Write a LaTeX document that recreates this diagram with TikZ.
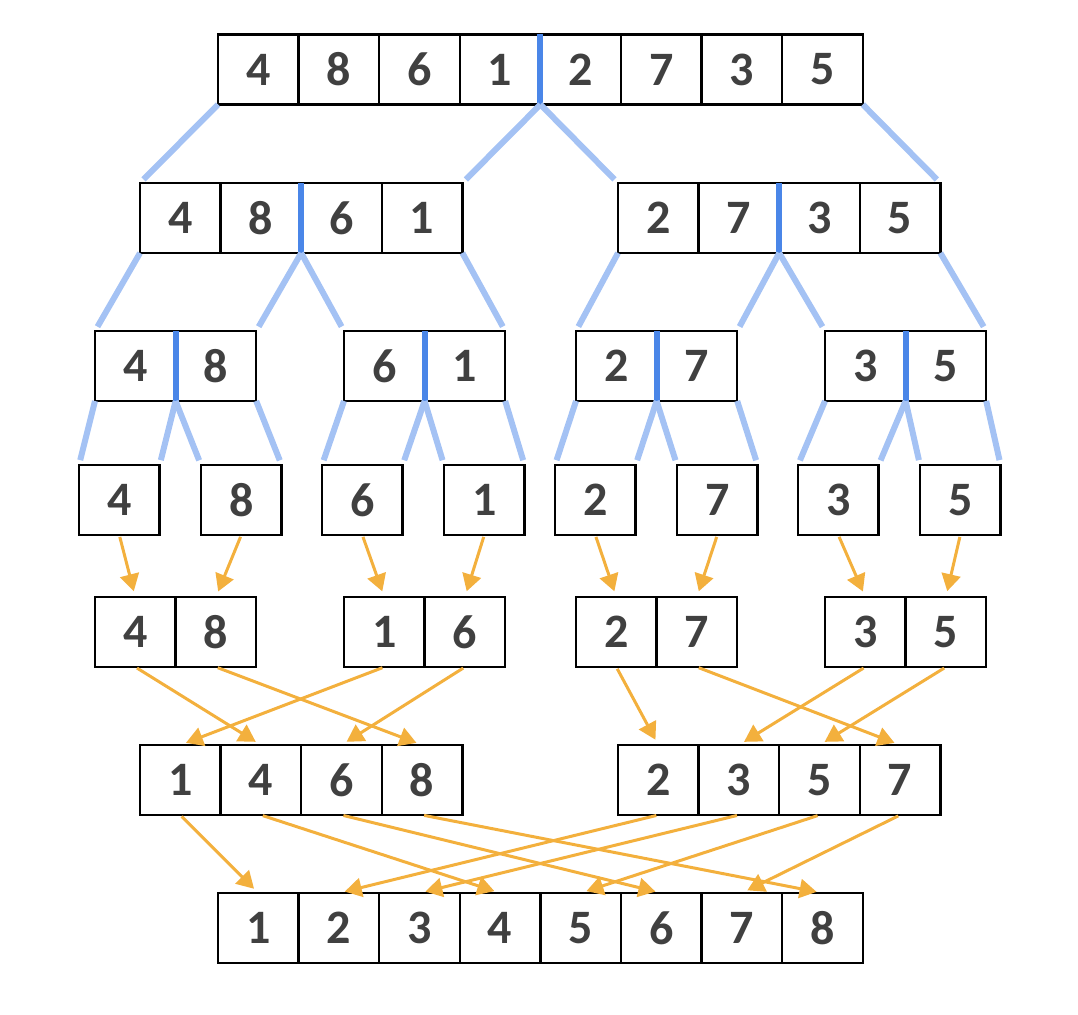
\documentclass[tikz,border=0pt]{standalone}
\usepackage{fontspec}
\setmainfont{Carlito}
\usetikzlibrary{arrows.meta}
\definecolor{cutblue}{HTML}{4A86E8}
\definecolor{branchblue}{HTML}{A4C2F4}
\definecolor{mergeorange}{HTML}{F3B03D}
\definecolor{digitgray}{HTML}{404040}

\begin{document}
\begin{tikzpicture}[x=1pt,y=-1pt,
  cell/.style={draw,line width=2.5pt,minimum width=80.6pt,minimum height=70pt,outer sep=0pt,inner sep=0pt,text=digitgray,font=\fontsize{48}{50}\selectfont\bfseries},
  cutline/.style={cutblue,line width=6pt},
  branch/.style={branchblue,line width=6pt,shorten >=5pt},
  mergearrow/.style={mergeorange,line width=3pt,shorten <=2pt,shorten >=6pt,-{Triangle[length=17pt,width=19pt]}}]
  \useasboundingbox (0,0) rectangle (1078,1014);
  % split rows
  \foreach \v [count=\i] in {4,8,6,1,2,7,3,5}
    \node[cell] (a\i) at ({177.7+80.6*\i},69.5) {\v};
  \foreach \v [count=\i] in {4,8,6,1}
    \node[cell] (b\i) at ({99.7+80.6*\i},218) {\v};
  \foreach \v [count=\i from 5] in {2,7,3,5}
    \node[cell] (b\i) at ({255.3+80.6*\i},218) {\v};
  \foreach \x/\p/\q [count=\k] in {135.3/4/8, 384.3/6/1, 616.3/2/7, 865.3/3/5} {
    \pgfmathtruncatemacro\m{2*\k-1}
    \pgfmathtruncatemacro\j{2*\k}
    \node[cell] (c\m) at (\x,366) {\p};
    \node[cell] (c\j) at (\x+80.6,366) {\q};
  }
  \foreach \x/\v [count=\i] in {119.3/4, 241.3/8, 362.3/6, 484.3/1, 595.3/2, 717.3/7, 838.3/3, 960.3/5}
    \node[cell] (d\i) at (\x,500) {\v};
  % merge rows
  \foreach \x/\p/\q [count=\k] in {135.3/4/8, 384.3/1/6, 616.3/2/7, 865.3/3/5} {
    \pgfmathtruncatemacro\m{2*\k-1}
    \pgfmathtruncatemacro\j{2*\k}
    \node[cell] (e\m) at (\x,632) {\p};
    \node[cell] (e\j) at (\x+80.6,632) {\q};
  }
  \foreach \v [count=\i] in {1,4,6,8}
    \node[cell] (f\i) at ({99.7+80.6*\i},780) {\v};
  \foreach \v [count=\i from 5] in {2,3,5,7}
    \node[cell] (f\i) at ({255.3+80.6*\i},780) {\v};
  \foreach \v [count=\i] in {1,2,3,4,5,6,7,8}
    \node[cell] (g\i) at ({177.7+80.6*\i},928) {\v};
  % halving marks
  \foreach \n in {a4,b2,b6,c1,c3,c5,c7}
    \draw[cutline] (\n.north east) -- (\n.south east);
  % branches
  \draw[branch] (a1.south west) -- (b1.north west);
  \draw[branch] (a4.south east) -- (b4.north east);
  \draw[branch] (a4.south east) -- (b5.north west);
  \draw[branch] (a8.south east) -- (b8.north east);
  \foreach \k in {1,5} {
    \pgfmathtruncatemacro\j{\k+1}
    \pgfmathtruncatemacro\r{\k+3}
    \draw[branch] (b\k.south west) -- (c\k.north west);
    \draw[branch] (b\j.south east) -- (c\j.north east);
    \draw[branch] (b\j.south east) -- (c\the\numexpr\j+1\relax.north west);
    \draw[branch] (b\r.south east) -- (c\r.north east);
  }
  \foreach \k in {1,3,5,7} {
    \pgfmathtruncatemacro\j{\k+1}
    \draw[branch] (c\k.south west) -- (d\k.north west);
    \draw[branch] (c\k.south east) -- (d\k.north east);
    \draw[branch] (c\k.south east) -- (d\j.north west);
    \draw[branch] (c\j.south east) -- (d\j.north east);
  }
  % merges
  \foreach \i in {1,...,8}
    \draw[mergearrow] (d\i.south) -- (e\i.north);
  \foreach \s/\t in {1/2,2/4,3/1,4/3,5/5,6/8,7/6,8/7}
    \draw[mergearrow] (e\s.south) -- (f\t.north);
  \foreach \s/\t in {1/1,2/4,3/6,4/8,5/2,6/3,7/5,8/7}
    \draw[mergearrow] (f\s.south) -- (g\t.north);
\end{tikzpicture}
\end{document}
